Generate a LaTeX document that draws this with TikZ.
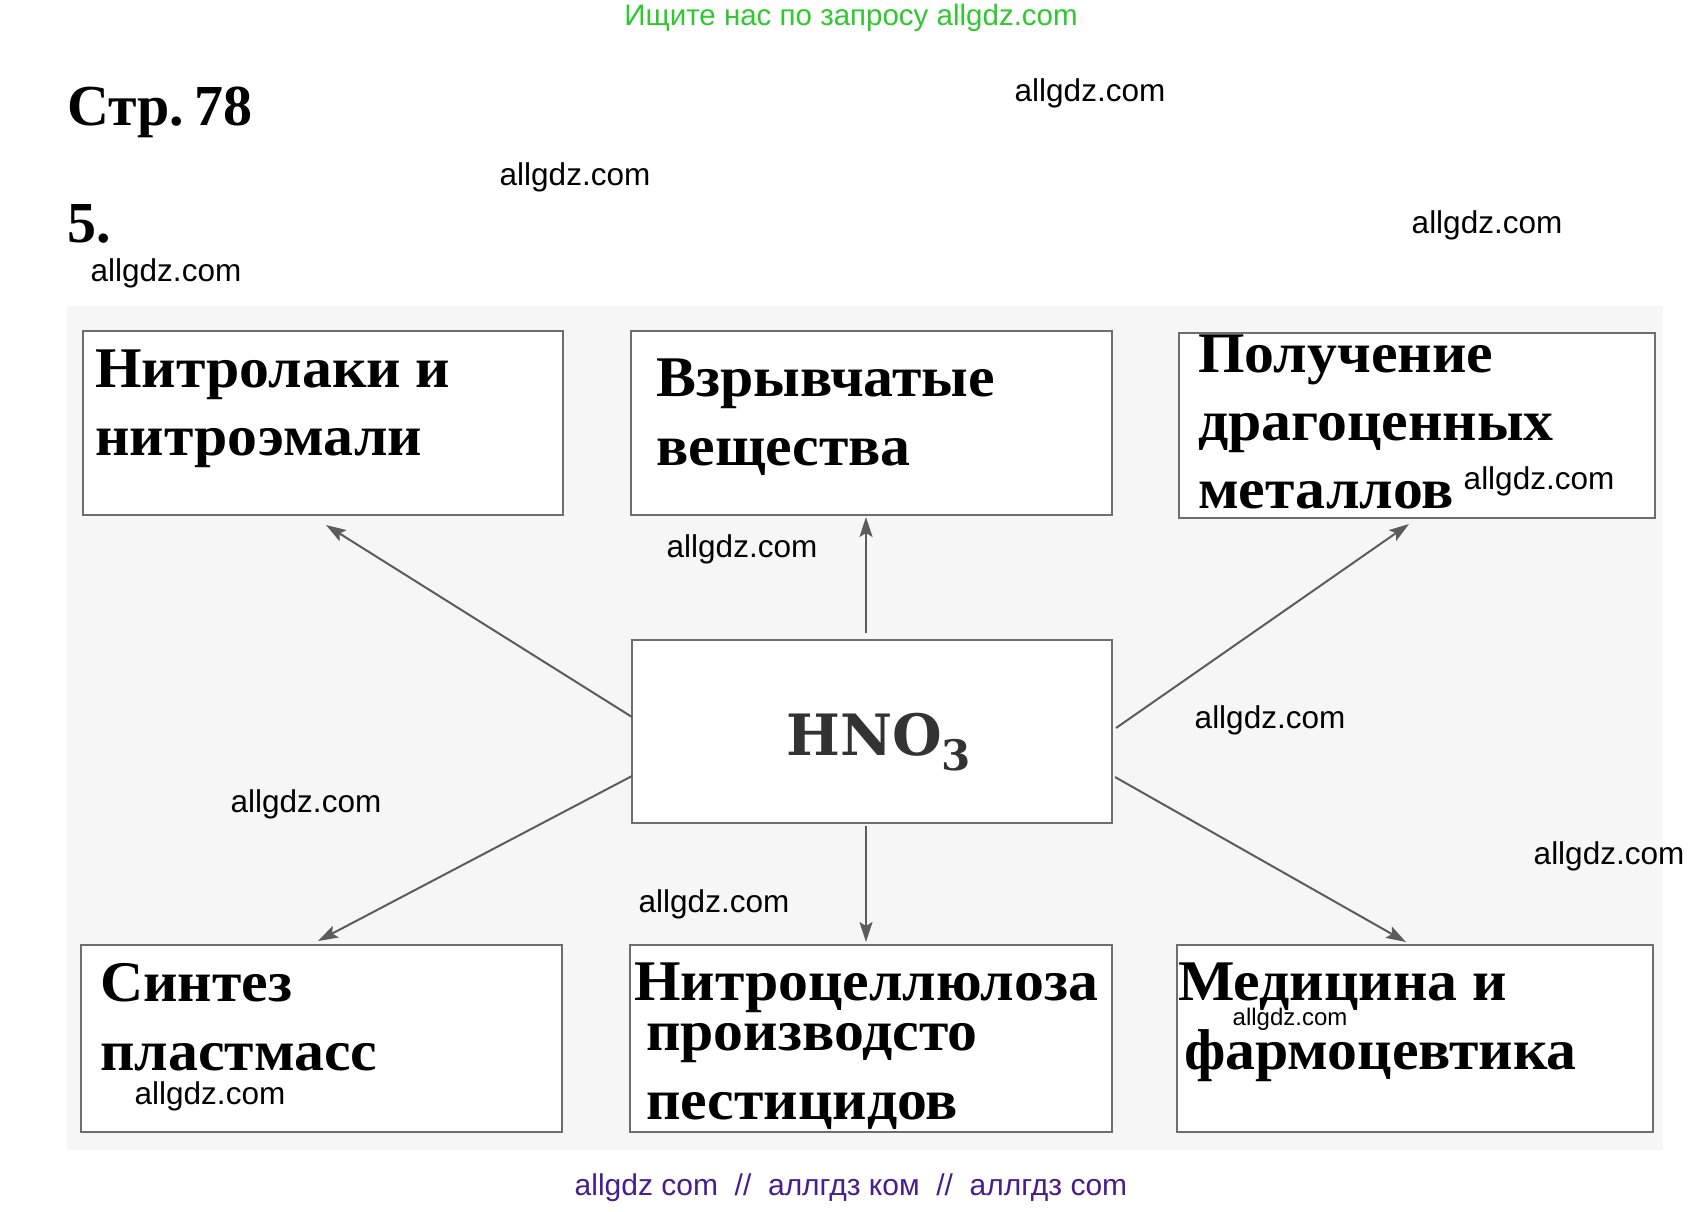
\documentclass[tikz,border=0pt]{standalone}
\usepackage{fontspec}
\setmainfont{Liberation Serif}
\newfontfamily\wmfont{Liberation Sans}
\newfontfamily\hnofont{DejaVu Serif}
\newfontfamily\boxfont[FakeStretch=1.04]{Liberation Serif}
\usetikzlibrary{arrows.meta}
\definecolor{boxline}{HTML}{6E6E6E}
\definecolor{arrowgray}{HTML}{5C5C5C}
\definecolor{hdrgreen}{HTML}{2FC82F}
\definecolor{footpurple}{HTML}{4A1D8E}
\definecolor{scanbg}{HTML}{F6F6F6}
\begin{document}
\begin{tikzpicture}[x=1pt,y=-1pt,
  box/.style={draw=boxline, line width=2.6pt, fill=white, inner sep=0pt, outer sep=0pt},
  boxtext/.style={anchor=base west, inner sep=0pt, font=\boxfont\fontsize{57.5}{60}\selectfont\bfseries},
  wm/.style={inner sep=0pt, font=\wmfont\fontsize{31.5}{31.5}\selectfont},
  arr/.style={draw=arrowgray, line width=2pt, -{Stealth[length=20pt,width=13pt,inset=4pt]}}
]
\useasboundingbox (0,0) rectangle (1704,1211);
\fill[white] (0,0) rectangle (1704,1211);
\fill[scanbg] (67,306) rectangle (1663,1150);

% header
\node[inner sep=0pt, text=hdrgreen, font=\wmfont\fontsize{29.5}{29.5}\selectfont] (hdr) at (851,18) {Ищите нас по запросу allgdz.com};
\node[anchor=base west, inner sep=0pt, font=\fontsize{58}{58}\selectfont\bfseries] (page) at (67,125) {Стр.\hspace{0.18em}78};
\node[anchor=base west, inner sep=0pt, font=\fontsize{58}{58}\selectfont\bfseries] (num) at (67,242) {5.};

% boxes
\node[box, minimum width=480, minimum height=184] (b1) at (323,423) {};
\node[box, minimum width=481, minimum height=184] (b2) at (871.5,423) {};
\node[box, minimum width=476, minimum height=185] (b3) at (1417,425.5) {};
\node[box, minimum width=480, minimum height=183] (c) at (872,731.5) {};
\node[box, minimum width=481, minimum height=187] (b4) at (321.5,1038.5) {};
\node[box, minimum width=482, minimum height=187] (b5) at (871,1038.5) {};
\node[box, minimum width=476, minimum height=187] (b6) at (1415,1038.5) {};

% box texts
\node[boxtext] (t1a) at (95,387) {Нитролаки и};
\node[boxtext] (t1b) at (95,455) {нитроэмали};
\node[boxtext] (t2a) at (656,396) {Взрывчатые};
\node[boxtext] (t2b) at (656,465) {вещества};
\node[boxtext] (t3a) at (1198,372) {Получение};
\node[boxtext] (t3b) at (1198,440) {драгоценных};
\node[boxtext] (t3c) at (1198,508) {металлов};
\node[boxtext] (t4a) at (100,1001) {Синтез};
\node[boxtext] (t4b) at (100,1070) {пластмасс};
\node[boxtext] (t5a) at (634,1000) {Нитроцеллюлоза};
\node[boxtext] (t5b) at (646,1050) {производсто};
\node[boxtext] (t5c) at (646,1119) {пестицидов};
\node[boxtext] (t6a) at (1178,1000) {Медицина и};
\node[boxtext] (t6b) at (1184,1069) {фармоцевтика};
\node[anchor=base west, inner sep=0pt, text=black!80, font=\hnofont\fontsize{57}{57}\selectfont\bfseries] (hno) at (786,755) {HNO\raisebox{-15pt}{\fontsize{42}{42}\selectfont 3}};

% arrow ends
\coordinate (s1) at (632,717);
\coordinate (e1) at (326,525);
\coordinate (s2) at (866,633);
\coordinate (e2) at (866,517);
\coordinate (s3) at (1116,728);
\coordinate (e3) at (1409,524);
\coordinate (s4) at (632,776);
\coordinate (e4) at (318,941);
\coordinate (s5) at (866,826);
\coordinate (e5) at (866,942);
\coordinate (s6) at (1115,777);
\coordinate (e6) at (1406,942);
\draw[arr] (s1) -- (e1);
\draw[arr] (s2) -- (e2);
\draw[arr] (s3) -- (e3);
\draw[arr] (s4) -- (e4);
\draw[arr] (s5) -- (e5);
\draw[arr] (s6) -- (e6);

% watermarks
\node[wm] (w1) at (1090,93) {allgdz.com};
\node[wm] (w2) at (575,177) {allgdz.com};
\node[wm] (w3) at (1487,225) {allgdz.com};
\node[wm] (w4) at (166,273) {allgdz.com};
\node[wm] (w5) at (1539,481) {allgdz.com};
\node[wm] (w6) at (742,549) {allgdz.com};
\node[wm] (w7) at (1270,720) {allgdz.com};
\node[wm] (w8) at (306,804) {allgdz.com};
\node[wm] (w9) at (1609,856) {allgdz.com};
\node[wm] (w10) at (714,904) {allgdz.com};
\node[wm] (w11) at (210,1096) {allgdz.com};
\node[inner sep=0pt, font=\wmfont\fontsize{24}{24}\selectfont] (w12) at (1290,1019) {allgdz.com};

% footer
\node[inner sep=0pt, text=footpurple, font=\wmfont\fontsize{30}{30}\selectfont] (foot) at (851,1188) {allgdz com \ // \ аллгдз ком \ // \ аллгдз com};
\end{tikzpicture}
\end{document}
